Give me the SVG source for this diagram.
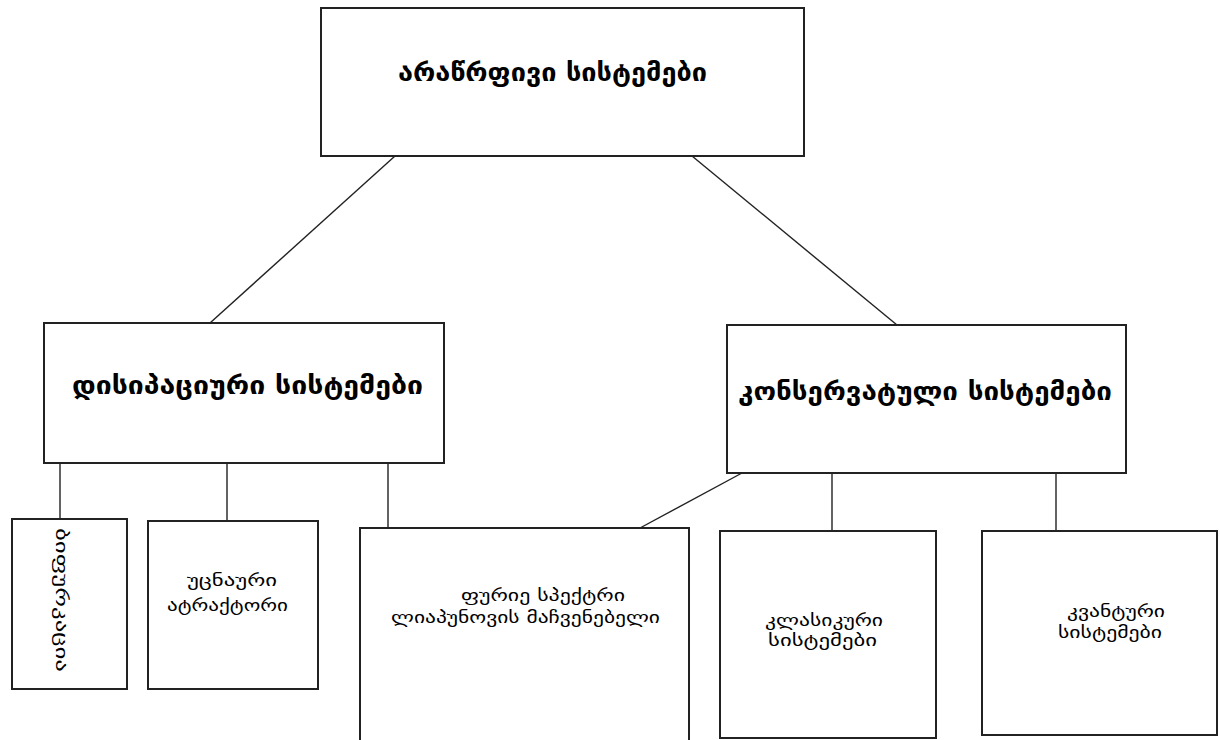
<svg xmlns="http://www.w3.org/2000/svg" width="1220" height="740" viewBox="0 0 1220 740">
<style>
.box{fill:#fff;stroke:#222;stroke-width:2}
.conn line{stroke:#222;stroke-width:1.4}
.big{font-family:"DejaVu Sans",sans-serif;font-size:25px;font-weight:bold;fill:#000}
.small{font-family:"DejaVu Sans",sans-serif;font-size:17px;fill:#000}
</style>
<rect width="1220" height="740" fill="#fff"/>
<g id="connectors" class="conn">
<line x1="395" y1="156" x2="210" y2="323"/>
<line x1="692" y1="156" x2="897" y2="325"/>
<line x1="60" y1="463" x2="60" y2="519"/>
<line x1="227" y1="463" x2="227" y2="521"/>
<line x1="388" y1="463" x2="388" y2="528"/>
<line x1="742" y1="473" x2="640" y2="528"/>
<line x1="832" y1="473" x2="832" y2="531"/>
<line x1="1056" y1="473" x2="1056" y2="531"/>
</g>
<g id="n-nonlinear">
<rect class="box" x="321" y="8" width="483" height="148"/>
<text class="big" x="398" y="81" textLength="309" lengthAdjust="spacingAndGlyphs">არაწრფივი სისტემები</text>
</g>
<g id="n-dissipative">
<rect class="box" x="44" y="323" width="400" height="140"/>
<text class="big" x="72" y="394" textLength="351" lengthAdjust="spacingAndGlyphs">დისიპაციური სისტემები</text>
</g>
<g id="n-conservative">
<rect class="box" x="727" y="325" width="399" height="148"/>
<text class="big" x="738" y="400" textLength="374" lengthAdjust="spacingAndGlyphs">კონსერვატული სისტემები</text>
</g>
<g id="n-bifurcation">
<rect class="box" x="12" y="519" width="115" height="170"/>
<text class="small" transform="translate(56,528) rotate(90)" x="0" y="0" textLength="144" lengthAdjust="spacingAndGlyphs">ბიფურკაცია</text>
</g>
<g id="n-attractor">
<rect class="box" x="148" y="521" width="170" height="168"/>
<text class="small" x="187" y="586" textLength="90" lengthAdjust="spacingAndGlyphs">უცნაური</text>
<text class="small" x="167" y="611" textLength="121" lengthAdjust="spacingAndGlyphs">ატრაქტორი</text>
</g>
<g id="n-fourier">
<rect class="box" x="360" y="528" width="329" height="225"/>
<text class="small" x="461" y="601" textLength="164" lengthAdjust="spacingAndGlyphs">ფურიე სპექტრი</text>
<text class="small" x="391" y="623" textLength="269" lengthAdjust="spacingAndGlyphs">ლიაპუნოვის მაჩვენებელი</text>
</g>
<g id="n-classical">
<rect class="box" x="720" y="531" width="216" height="207"/>
<text class="small" x="765" y="626" textLength="118" lengthAdjust="spacingAndGlyphs">კლასიკური</text>
<text class="small" x="768" y="646" textLength="109" lengthAdjust="spacingAndGlyphs">სისტემები</text>
</g>
<g id="n-quantum">
<rect class="box" x="982" y="531" width="235" height="204"/>
<text class="small" x="1067" y="617" textLength="98" lengthAdjust="spacingAndGlyphs">კვანტური</text>
<text class="small" x="1058" y="638" textLength="104" lengthAdjust="spacingAndGlyphs">სისტემები</text>
</g>
</svg>
